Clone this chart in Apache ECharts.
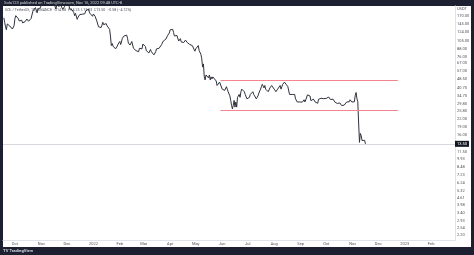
<!DOCTYPE html>
<html>
<head>
<meta charset="utf-8">
<script src="https://cdn.jsdelivr.net/npm/echarts@6/dist/echarts.min.js"></script>
<style>
  html, body { margin: 0; padding: 0; background: #1c2030; }
  #wrap { position: relative; width: 474px; height: 255px; overflow: hidden; background: #1c2030; }
  #paper { position: absolute; left: 3px; top: 6px; width: 468px; height: 241px; background: #ffffff; }
  #chart { position: absolute; left: 0; top: 0; width: 474px; height: 255px; }
</style>
</head>
<body>
<div id="wrap"><div id="paper"></div><div id="chart"></div></div>
<script>
// Daily closes, SOL / TetherUS
const startDate = '2021-09-18';
const sep2021 = [165,150,138,130,146,151,141,140,135,136,132,136,141];
const oct2021 = [163,172,172,167,162,155,159,156,157,149,146,149,153,159,161,156,154,154,159,163,165,188,190,192,202,198,182,196,201,195,202];
const nov2021 = [218,238,233,245,248,253,253,257,240,225,236,231,235,228,230,219,213,196,212,214,212,207,221,210,212,195,197,205,209,211];
const dec2021 = [233,230,222,198,195,197,193,196,183,172,180,176,160,167,172,176,178,180,177,175,181,179,189,190,195,196,191,180,173,173,170];
const jan2022 = [178,176,170,167,155,149,138,141,140,136,142,151,144,146,148,147,141,139,140,131,115,95,99,94,95,92,89,92,94,98,100];
const feb2022 = [103,97,98,110,113,115,119,113,117,110,100,99,96,99,103,101,90,88,88,86,83,87,84,90,93,91,89,98];
const mar2022 = [101,99,93,86,88,85,82,83,88,84,82,81,79,82,84,89,87,89,90,89,92,97,99,104,103,105,108,109,116,120,122];
const apr2022 = [130,133,135,131,123,115,117,113,116,112,104,106,109,102,104,104,101,104,106,104,101,100,98,97,99,94,95,97,93,85];
const may2022 = [89,88,87,95,86,84,80,74,62,66,51,48,53,53,55,50,53,48,51,49,51,52,49,48,47,43,42,44,46,47,46];
const jun2022 = [40,41,39,39,39,42,40,38,38,35,32,29,27,29,32,28,31,28,34,34,36,34,38,40,41,39,38,36,35,33];
const jul2022 = [32,33,34,36,35,37,38,36,37,35,33,33,35,37,38,40,42,44,45,41,43,40,41,41,38,37,41,42,43,43,42];
const aug2022 = [40,40,38,39,40,39,40,43,40,42,44,45,46,45,44,43,42,41,36,35,36,36,36,35,36,33,32,31,32,31,31];
const sep2022 = [32.1,31.2,30.9,31.8,32.4,31.0,32.3,32.9,35.7,36.4,35.5,34.9,31.8,32.6,31.9,32.8,33.1,31.0,32.2,30.9,30.2,32.7,33.3,32.9,33.4,32.8,33.5,33.1,33.9,33.2];
const oct2022 = [33.3,32.4,33.6,34.2,33.4,32.5,31.8,32.2,32.8,31.9,31.0,30.8,30.9,30.1,29.8,30.2,30.4,29.9,28.9,28.3,28.6,29.1,30.0,29.2,31.0,31.2,30.1,31.1,32.4,31.3,31.0];
const nov2022 = [31.5,30.2,31.1,35.3,37.4,33.1,31.2,20.4,13.9,16.6,15.9,14.4,14.0,14.1,14.5,13.5];

// Horizontal range lines
const rangeTop = 47.3;
const rangeBottom = 26.4;
const rangeStart = '2022-05-30';
const rangeEnd = '2022-12-24';

// Axis ticks
const priceTicks = [170,145,124,105,88,76,67,57,48.5,40.7,34.7,29.8,25.8,22.0,19.0,16.0,11.5,9.93,8.48,7.23,6.24,5.32,4.61,3.98,3.40,2.93,2.54,2.20];
const monthTicks = ['2021-10-01','2021-11-01','2021-12-01','2022-01-01','2022-02-01','2022-03-01','2022-04-01','2022-05-01','2022-06-01','2022-07-01','2022-08-01','2022-09-01','2022-10-01','2022-11-01','2022-12-01','2023-01-01','2023-02-01'];
const monthLabels = ['Oct','Nov','Dec','2022','Feb','Mar','Apr','May','Jun','Jul','Aug','Sep','Oct','Nov','Dec','2023','Feb'];

const toTime = d => Date.parse(d + 'T00:00:00Z');
const closes = [].concat(sep2021, oct2021, nov2021, dec2021, jan2022, feb2022, mar2022, apr2022, may2022, jun2022, jul2022, aug2022, sep2022, oct2022, nov2022);
const t0 = toTime(startDate);
const DAY = 86400000;
const seriesData = closes.map((c, i) => [t0 + i * DAY, c]);
const lastClose = closes[closes.length - 1];
const tickTimes = monthTicks.map(toTime);

const FONT = 'Roboto, "Liberation Sans", sans-serif';
const chart = echarts.init(document.getElementById('chart'), null, { renderer: 'canvas' });
chart.setOption({
  animation: false,
  backgroundColor: 'transparent',
  grid: { left: 3, right: 19, top: 6, bottom: 15, containLabel: false },
  xAxis: {
    type: 'value',
    min: toTime('2021-09-17'),
    max: toTime('2023-03-01'),
    axisLine: { show: true, lineStyle: { color: '#e0e3eb', width: 1 } },
    axisTick: { show: false },
    splitLine: { show: false },
    axisLabel: {
      customValues: tickTimes,
      margin: 2,
      fontSize: 4,
      color: '#50535e',
      fontFamily: FONT,
      formatter: function (v) {
        const idx = tickTimes.indexOf(v);
        return idx >= 0 ? monthLabels[idx] : '';
      }
    }
  },
  yAxis: {
    type: 'log',
    position: 'right',
    min: 2.0,
    max: 208.5,
    axisLine: { show: true, lineStyle: { color: '#e0e3eb', width: 1 } },
    axisTick: { show: false },
    splitLine: { show: false },
    axisLabel: {
      customValues: priceTicks,
      margin: 2,
      fontSize: 4,
      color: '#50535e',
      fontFamily: FONT,
      formatter: function (v) { return Number(v).toFixed(2); }
    }
  },
  series: [{
    type: 'line',
    data: seriesData,
    showSymbol: false,
    symbol: 'none',
    lineStyle: { color: '#2f323c', width: 1 },
    z: 3,
    markLine: {
      silent: true,
      symbol: ['none', 'none'],
      animation: false,
      data: [
        {
          yAxis: lastClose,
          lineStyle: { color: '#d6d8de', width: 1, type: 'solid' },
          label: {
            show: true, position: 'end', distance: 0,
            formatter: function (p) { return Number(p.value).toFixed(2); },
            backgroundColor: '#131722', color: '#ffffff', fontSize: 4, fontFamily: FONT,
            padding: [1, 2, 1, 2]
          }
        },
        [
          { coord: [toTime(rangeStart), rangeTop], lineStyle: { color: '#f4848f', width: 1, type: 'solid' }, label: { show: false } },
          { coord: [toTime(rangeEnd), rangeTop] }
        ],
        [
          { coord: [toTime(rangeStart), rangeBottom], lineStyle: { color: '#f4848f', width: 1, type: 'solid' }, label: { show: false } },
          { coord: [toTime(rangeEnd), rangeBottom] }
        ]
      ]
    }
  }],
  graphic: [
    { type: 'text', left: 4, top: 1, silent: true,
      style: { text: 'Solo123 published on TradingView.com, Nov 16, 2022 09:48 UTC-8', fill: '#d1d4dc', fontSize: 4, fontFamily: FONT } },
    { type: 'text', left: 5, top: 8, silent: true,
      style: { text: 'SOL / TetherUS, 1D, BINANCE   O14.08  H14.25  L13.33  C13.50  −0.58 (−4.12%)', fill: '#50535e', fontSize: 3.6, fontFamily: FONT } },
    { type: 'text', left: 457, top: 7, silent: true,
      style: { text: 'USDT', fill: '#50535e', fontSize: 4, fontFamily: FONT } },
    { type: 'text', left: 3, top: 249, silent: true,
      style: { text: 'TV TradingView', fill: '#d1d4dc', fontSize: 4.2, fontWeight: 'bold', fontFamily: FONT } }
  ]
});
</script>
</body>
</html>
